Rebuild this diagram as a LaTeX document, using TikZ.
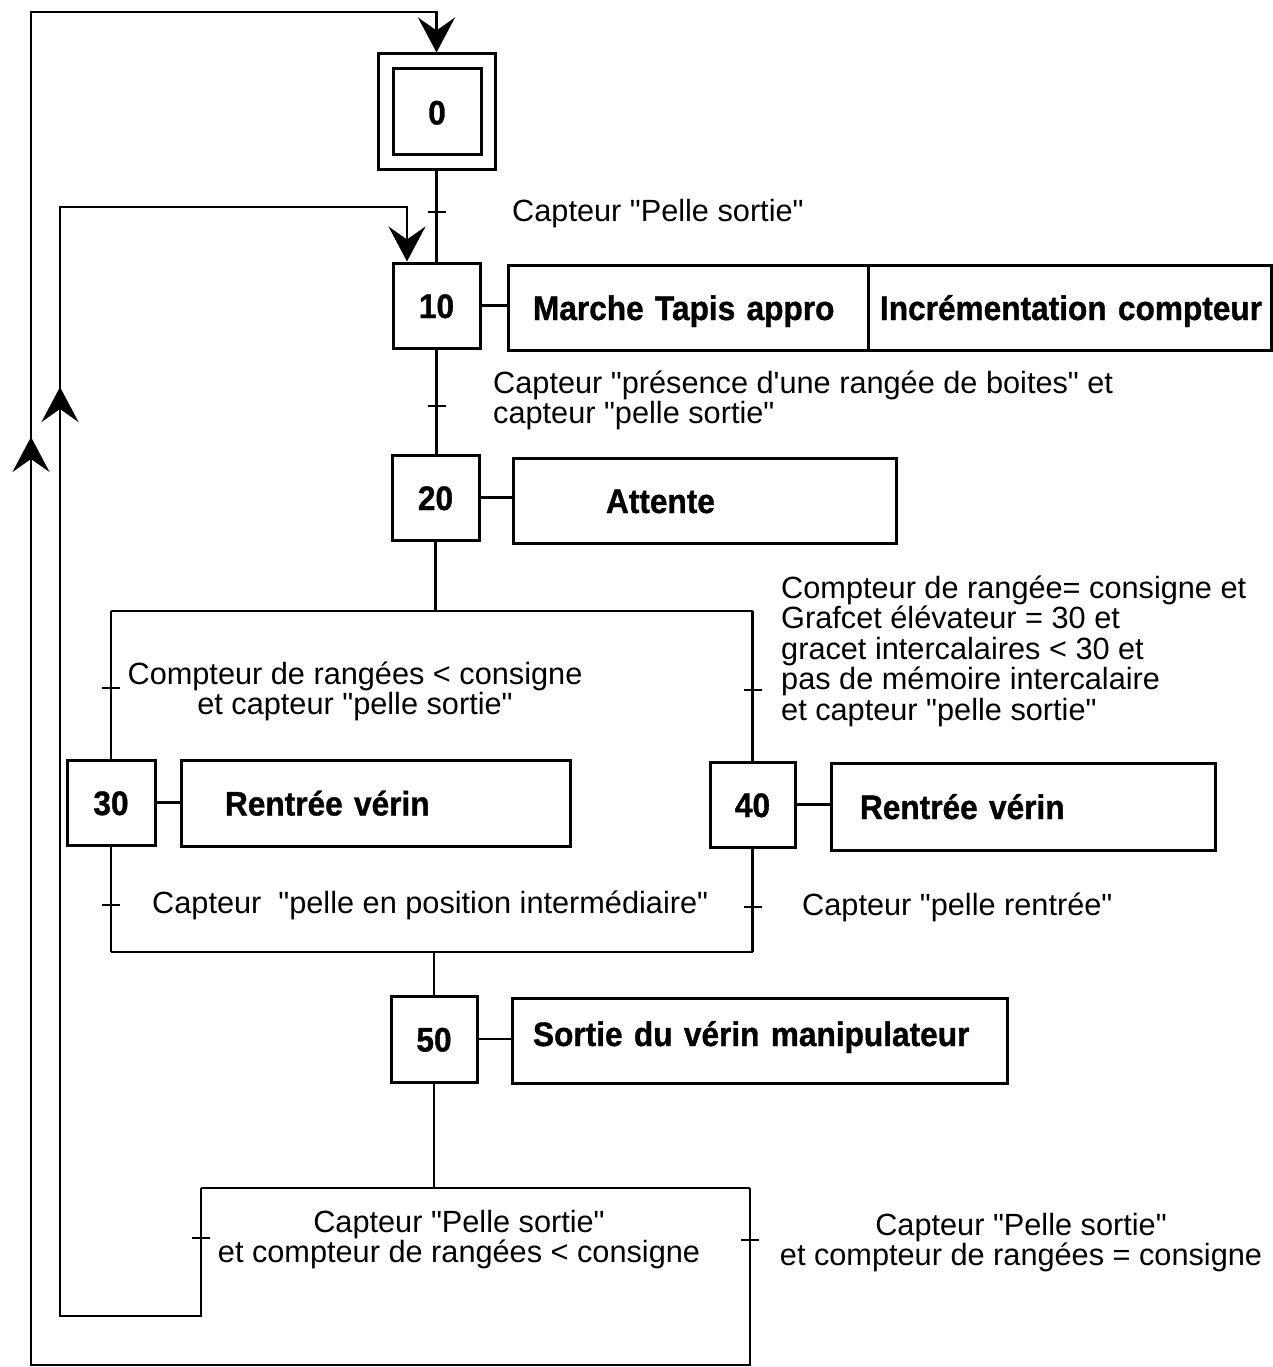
\documentclass[tikz,border=0pt]{standalone}
\usepackage{fontspec}
\setmainfont{Liberation Sans}[Ligatures=TeXOff]
\newfontfamily\narrowfam{Liberation Sans}[Ligatures=TeXOff, FakeStretch=0.93, BoldFeatures={FakeBold=1}]
\usetikzlibrary{arrows.meta}
\newcommand\lblfont{\fontsize{30.7}{30.5}\selectfont}
\newcommand\boldfont{\narrowfam\bfseries\fontsize{34}{36}\selectfont}
\newcommand\gtrans[1]{\draw[lnk] ([xshift=-9pt]#1) -- ([xshift=9pt]#1);}
\begin{document}
\begin{tikzpicture}[x=1pt,y=-1pt,
 lnk/.style={line width=2.2pt},
 stepbox/.style={draw, line width=3pt, inner sep=0pt, font=\boldfont, text height=25pt, text depth=0pt, align=center},
 actbox/.style={draw, line width=3pt, inner sep=0pt, font=\boldfont, text height=25pt, text depth=0pt, align=left, minimum height=85pt},
 lbl/.style={inner sep=0pt, font=\lblfont, anchor=base west, align=left},
 clbl/.style={inner sep=0pt, font=\lblfont, anchor=base, align=center},
 arr/.style={-{Stealth[length=35pt,width=37pt,inset=13pt]}}]
\useasboundingbox (0,0) rectangle (1273,1367);

% steps
\node[stepbox, minimum width=117pt, minimum height=116pt] (s0o) at (436.5,112) {};
\node[stepbox, minimum width=88pt, minimum height=86pt] (s0) at (437,112) {0};
\node[stepbox, minimum width=87pt, minimum height=85pt] (s10) at (436.5,305.5) {10};
\node[stepbox, minimum width=87pt, minimum height=85pt] (s20) at (435.5,497.5) {20};
\node[stepbox, minimum width=88pt, minimum height=85pt] (s30) at (111,802.5) {30};
\node[stepbox, minimum width=85pt, minimum height=85pt] (s40) at (752.5,804.5) {40};
\node[stepbox, minimum width=86pt, minimum height=86pt] (s50) at (434,1039) {50};

% actions
\node[actbox, text width=360pt] (a10a) at (688,307.5) {\hspace*{25pt}Marche Tapis appro};
\node[actbox, text width=403pt] (a10b) at (1069.5,307.5) {\hspace*{12pt}Incrémentation compteur};
\node[actbox, text width=383pt] (a20) at (704.5,500.5) {\hspace*{93pt}Attente};
\node[actbox, text width=389pt, minimum height=86pt] (a30) at (375.5,803) {\hspace*{44pt}Rentrée vérin};
\node[actbox, text width=384pt, minimum height=87pt] (a40) at (1023,806.5) {\hspace*{29pt}Rentrée vérin};
\node[actbox, text width=495pt] (a50) at (759.5,1040.5) {\hspace*{21pt}\raisebox{7pt}{Sortie du vérin manipulateur}};

\draw[lnk] (s10.east) -- (s10.east -| a10a.west);
\draw[lnk] (s20.east) -- (s20.east -| a20.west);
\draw[lnk] (s30.east) -- (s30.east -| a30.west);
\draw[lnk] (s40.east) -- (s40.east -| a40.west);
\draw[lnk] (s50.east) -- (s50.east -| a50.west);

% junction coordinates
\coordinate (dL) at (111,611);
\coordinate (dR) at (752.5,611);
\coordinate (cL) at (111,952);
\coordinate (cR) at (752.5,952);
\coordinate (eL) at (201,1188);
\coordinate (eR) at (750,1188);
\coordinate (oBot) at (31,1365);
\coordinate (oTop) at (31,12);
\coordinate (iBot) at (60,1316);
\coordinate (iTop) at (60,207);
\coordinate (oMid) at (31,437);
\coordinate (iMid) at (60,387);

% main links
\draw[lnk] (s0o.south) -- (s10.north);
\draw[lnk] (s10.south) -- (s10.south |- s20.north);
\draw[lnk] (s20.south) -- (s20.south |- dL);
\draw[lnk] (dL) -- (dR);
\draw[lnk] (dL) -- (s30.north);
\draw[lnk] (dR) -- (s40.north);
\draw[lnk] (s30.south) -- (cL);
\draw[lnk] (s40.south) -- (cR);
\draw[lnk] (cL) -- (cR);
\draw[lnk] (s50.north |- cL) -- (s50.north);
\draw[lnk] (s50.south) -- (s50.south |- eL);
\draw[lnk] (eL) -- (eR);

% loops
\draw[lnk,arr] (eR) |- (oBot) -- (oTop) -| (s0o.north);
\draw[lnk,arr] (eL) |- (iBot) -- (iTop) -| ([xshift=-29.5pt]s10.north);
\draw[lnk,arr] ([yshift=-45pt]oMid) -- (oMid);
\draw[lnk,arr] ([yshift=-45pt]iMid) -- (iMid);

% transitions
\coordinate (t0) at (436.5,212);
\coordinate (t1) at (436.5,406);
\coordinate (tL1) at (111,688);
\coordinate (tR1) at (752.5,690);
\coordinate (tL2) at (111,905);
\coordinate (tR2) at (752.5,907);
\coordinate (tL3) at (201,1238);
\coordinate (tR3) at (750,1240);
\gtrans{t0}
\gtrans{t1}
\gtrans{tL1}
\gtrans{tR1}
\gtrans{tL2}
\gtrans{tR2}
\gtrans{tL3}
\gtrans{tR3}

% receptivities (base anchor = baseline of the last line)
\node[lbl] (r0) at (512,222) {Capteur "Pelle sortie"};
\node[lbl] (r1) at (493,423.5) {Capteur "présence d\textquotesingle une rangée de boites" et\\capteur "pelle sortie"};
\node[clbl] (rL1) at (355,714.5) {Compteur de rangées < consigne\\et capteur "pelle sortie"};
\node[lbl] (rR1) at (781,720) {Compteur de rangée= consigne et\\Grafcet élévateur = 30 et\\gracet intercalaires < 30 et\\pas de mémoire intercalaire\\et capteur "pelle sortie"};
\node[lbl] (rL2) at (152,913) {Capteur\ \ "pelle en position intermédiaire"};
\node[lbl] (rR2) at (802,915) {Capteur "pelle rentrée"};
\node[clbl] (rL3) at (459,1262.5) {Capteur "Pelle sortie"\\et compteur de rangées < consigne};
\node[clbl] (rR3) at (1021,1265.5) {Capteur "Pelle sortie"\\et compteur de rangées = consigne};
\end{tikzpicture}
\end{document}
